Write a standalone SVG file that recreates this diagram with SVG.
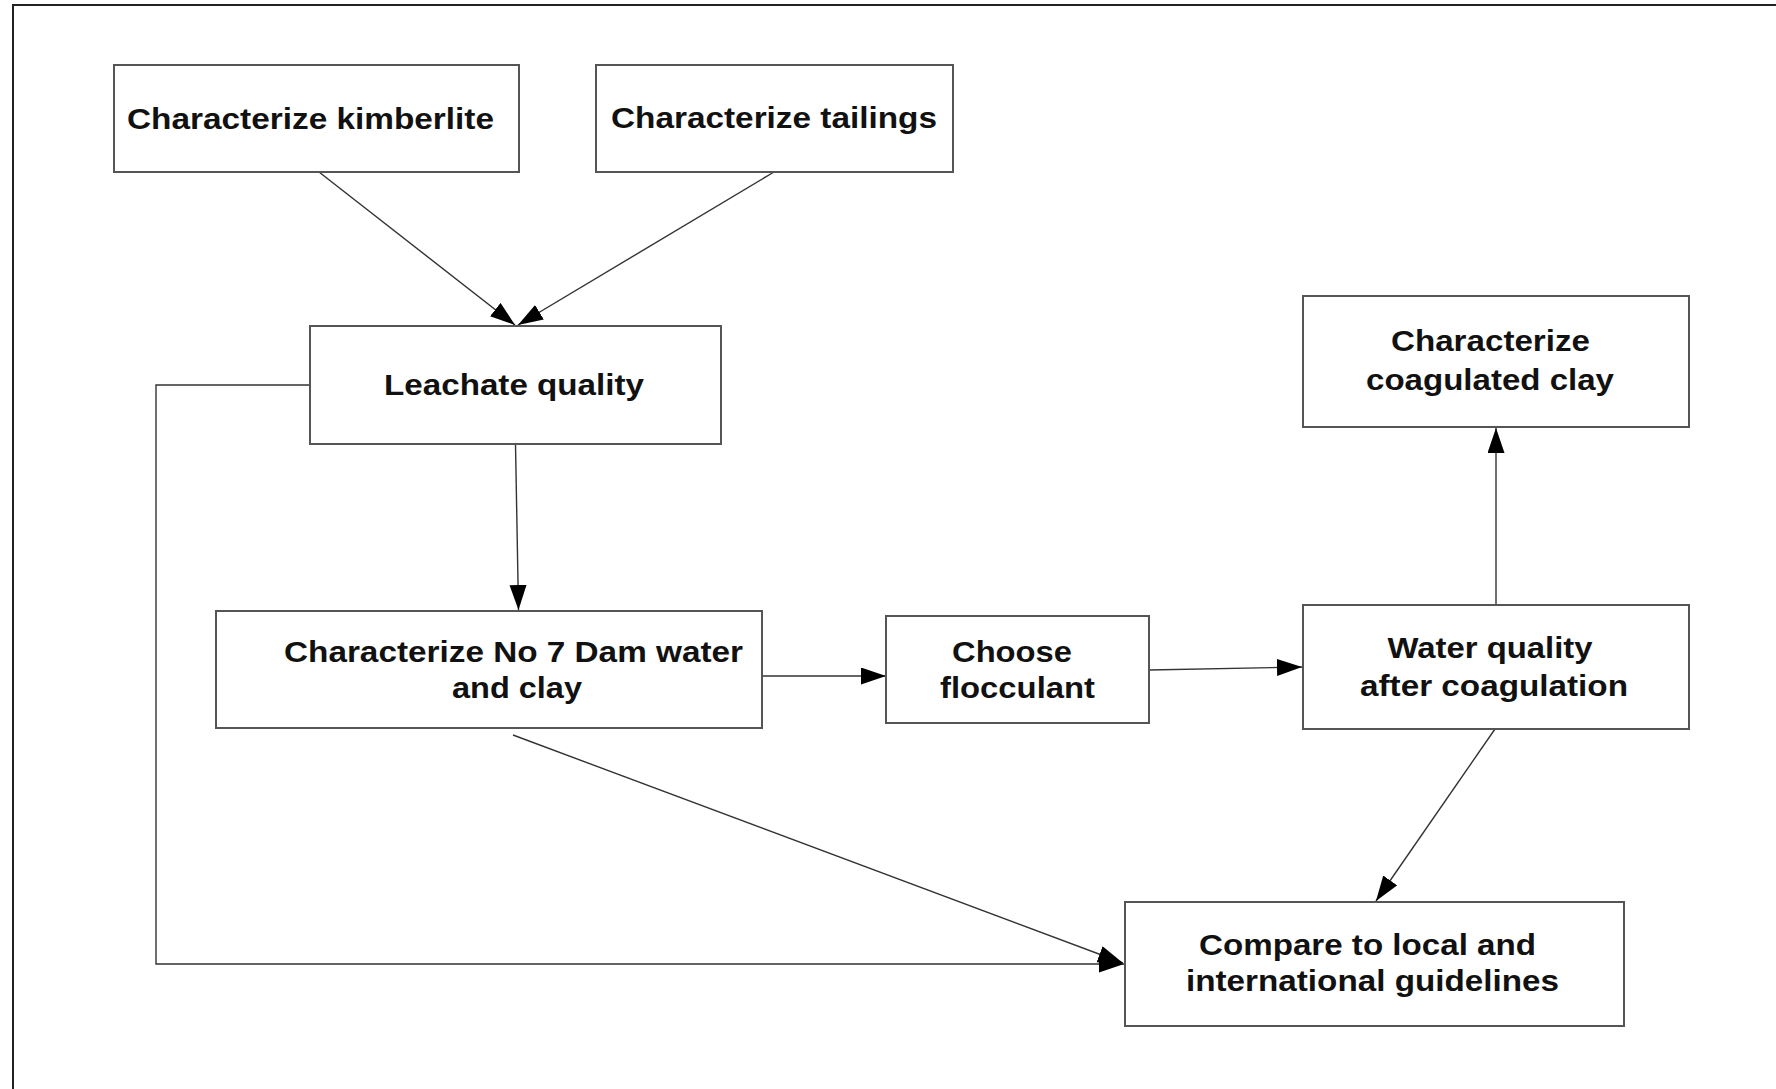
<svg xmlns="http://www.w3.org/2000/svg" width="1776" height="1089" viewBox="0 0 1776 1089">
<style>
.box{fill:#fff;stroke:#555;stroke-width:2}
.t{font-family:"Liberation Sans",Arial,sans-serif;font-weight:bold;font-size:29px;fill:#111;text-anchor:middle}
.c{fill:none;stroke:#333;stroke-width:1.4}
</style>
<defs>
<marker id="ah" markerUnits="userSpaceOnUse" markerWidth="26" markerHeight="18" refX="25" refY="8.5" orient="auto">
<path d="M0,0 L25,8.5 L0,17 z" fill="#000"/>
</marker>
</defs>
<rect width="1776" height="1089" fill="#fff"/>
<path d="M13,1089 V5 H1776" fill="none" stroke="#222" stroke-width="2"/>
<g id="connectors">
<line class="c" x1="319" y1="172" x2="515" y2="325" marker-end="url(#ah)"/>
<line class="c" x1="774" y1="172" x2="518" y2="325" marker-end="url(#ah)"/>
<line class="c" x1="515.5" y1="444" x2="518.5" y2="610" marker-end="url(#ah)"/>
<polyline class="c" points="310,385 156,385 156,964 1124,964" marker-end="url(#ah)"/>
<line class="c" x1="513" y1="735" x2="1123" y2="963" marker-end="url(#ah)"/>
<line class="c" x1="762" y1="676" x2="886" y2="676" marker-end="url(#ah)"/>
<line class="c" x1="1149" y1="670" x2="1302" y2="667" marker-end="url(#ah)"/>
<line class="c" x1="1496" y1="605" x2="1496" y2="428" marker-end="url(#ah)"/>
<line class="c" x1="1495" y1="729" x2="1376" y2="901" marker-end="url(#ah)"/>
</g>
<g id="n1">
<rect class="box" x="114" y="65" width="405" height="107"/>
<text class="t" x="310.5" y="129" textLength="367" lengthAdjust="spacingAndGlyphs">Characterize kimberlite</text>
</g>
<g id="n2">
<rect class="box" x="596" y="65" width="357" height="107"/>
<text class="t" x="774" y="128" textLength="326" lengthAdjust="spacingAndGlyphs">Characterize tailings</text>
</g>
<g id="n3">
<rect class="box" x="310" y="326" width="411" height="118"/>
<text class="t" x="514" y="395" textLength="260" lengthAdjust="spacingAndGlyphs">Leachate quality</text>
</g>
<g id="n4">
<rect class="box" x="216" y="611" width="546" height="117"/>
<text class="t" x="513.5" y="662" textLength="459" lengthAdjust="spacingAndGlyphs">Characterize No 7 Dam water</text>
<text class="t" x="517" y="698" textLength="130" lengthAdjust="spacingAndGlyphs">and clay</text>
</g>
<g id="n5">
<rect class="box" x="886" y="616" width="263" height="107"/>
<text class="t" x="1012" y="662" textLength="120" lengthAdjust="spacingAndGlyphs">Choose</text>
<text class="t" x="1017.5" y="698" textLength="155" lengthAdjust="spacingAndGlyphs">flocculant</text>
</g>
<g id="n6">
<rect class="box" x="1303" y="605" width="386" height="124"/>
<text class="t" x="1490" y="658" textLength="205" lengthAdjust="spacingAndGlyphs">Water quality</text>
<text class="t" x="1494" y="696" textLength="268" lengthAdjust="spacingAndGlyphs">after coagulation</text>
</g>
<g id="n7">
<rect class="box" x="1303" y="296" width="386" height="131"/>
<text class="t" x="1490.5" y="351" textLength="199" lengthAdjust="spacingAndGlyphs">Characterize</text>
<text class="t" x="1490" y="390" textLength="248" lengthAdjust="spacingAndGlyphs">coagulated clay</text>
</g>
<g id="n8">
<rect class="box" x="1125" y="902" width="499" height="124"/>
<text class="t" x="1367.5" y="955" textLength="337" lengthAdjust="spacingAndGlyphs">Compare to local and</text>
<text class="t" x="1372.5" y="991" textLength="373" lengthAdjust="spacingAndGlyphs">international guidelines</text>
</g>
</svg>
